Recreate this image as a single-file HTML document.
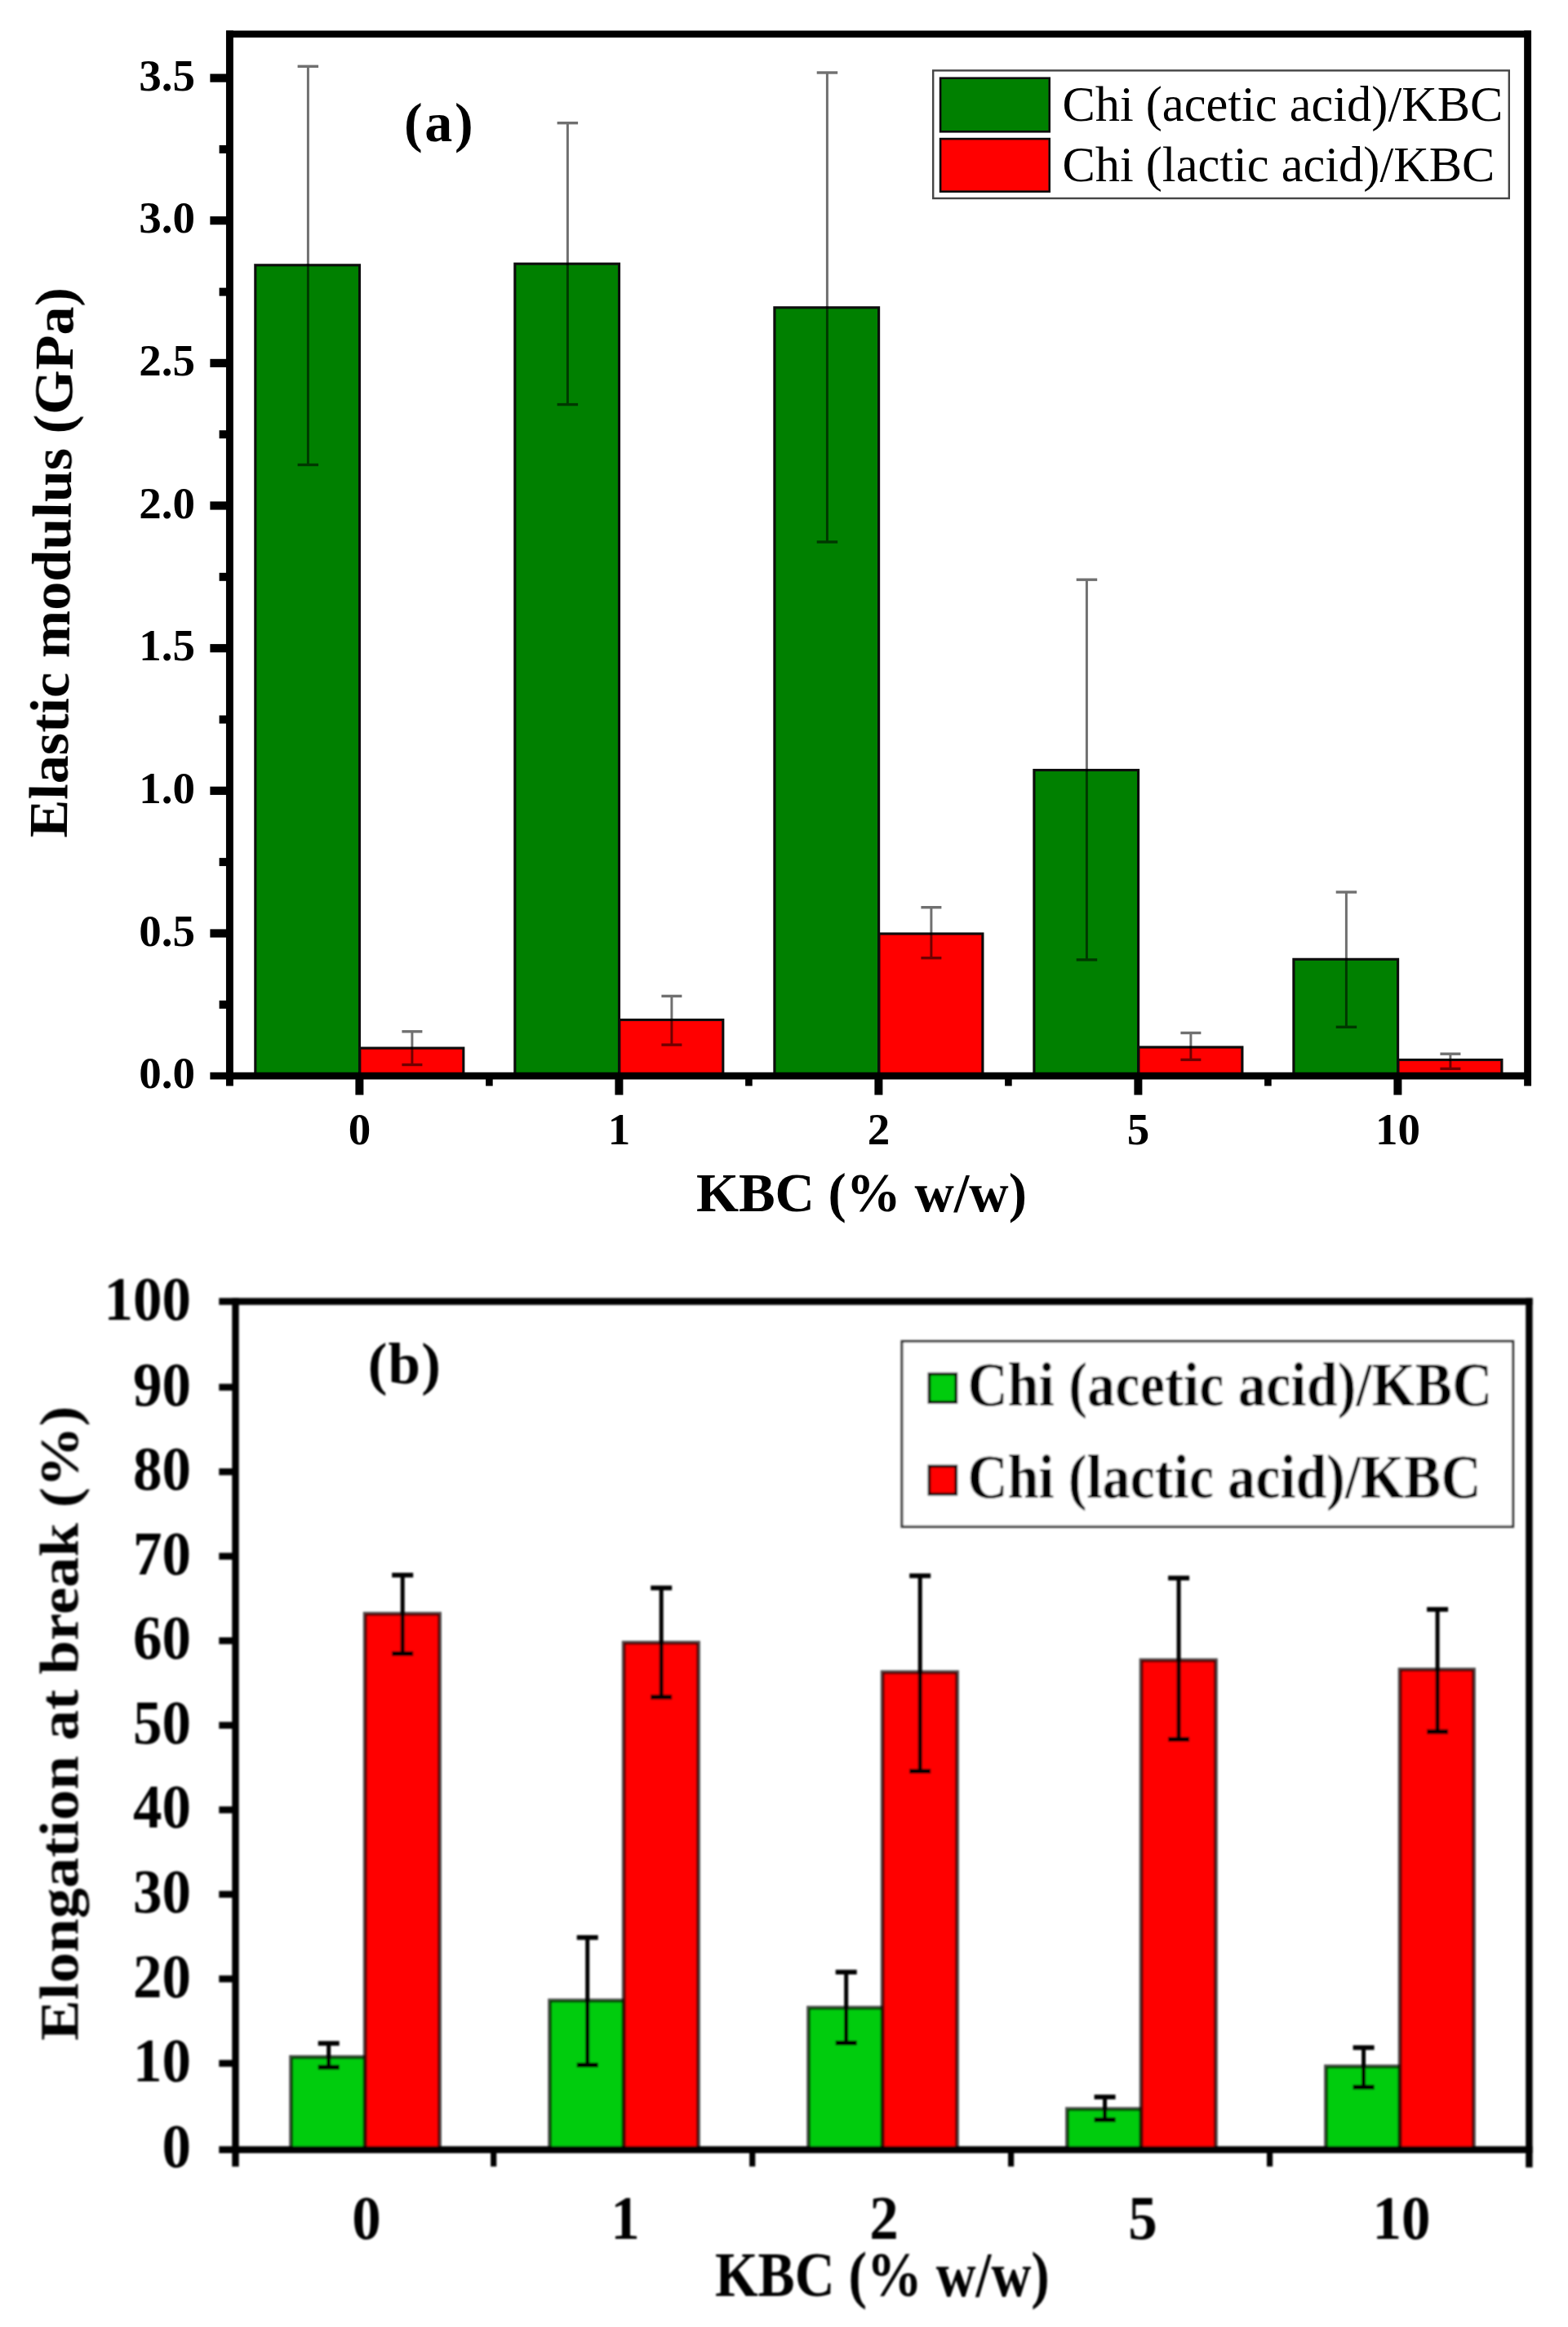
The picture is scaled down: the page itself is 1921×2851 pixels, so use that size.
<!DOCTYPE html>
<html lang="en"><head><meta charset="utf-8"><title>Figure</title>
<style>html,body{margin:0;padding:0;background:#fff}svg{display:block}</style></head>
<body>
<svg width="1921" height="2851" viewBox="0 0 1921 2851" font-family="'Liberation Serif', 'Times New Roman', serif" fill="#000">
<rect width="1921" height="2851" fill="#fff"/>
<defs><filter id="ba" filterUnits="userSpaceOnUse" x="0" y="0" width="1921" height="1540"><feGaussianBlur stdDeviation="0.55"/></filter><filter id="bb" filterUnits="userSpaceOnUse" x="0" y="1530" width="1921" height="1321"><feGaussianBlur stdDeviation="0.95"/></filter></defs>
<g filter="url(#ba)">
<rect x="312.8" y="324.8" width="127.7" height="991.8" fill="#008000" stroke="#0a0a0a" stroke-width="3.1"/>
<rect x="440.8" y="1284.1" width="127.0" height="32.4" fill="#ff0000" stroke="#0a0a0a" stroke-width="3.1"/>
<rect x="630.8" y="323.2" width="127.7" height="993.4" fill="#008000" stroke="#0a0a0a" stroke-width="3.1"/>
<rect x="758.8" y="1249.5" width="127.0" height="67.0" fill="#ff0000" stroke="#0a0a0a" stroke-width="3.1"/>
<rect x="948.9" y="376.8" width="127.7" height="939.8" fill="#008000" stroke="#0a0a0a" stroke-width="3.1"/>
<rect x="1076.9" y="1144.0" width="127.0" height="172.5" fill="#ff0000" stroke="#0a0a0a" stroke-width="3.1"/>
<rect x="1266.9" y="943.5" width="127.7" height="373.0" fill="#008000" stroke="#0a0a0a" stroke-width="3.1"/>
<rect x="1394.9" y="1283.0" width="127.0" height="33.6" fill="#ff0000" stroke="#0a0a0a" stroke-width="3.1"/>
<rect x="1584.9" y="1175.3" width="127.7" height="141.2" fill="#008000" stroke="#0a0a0a" stroke-width="3.1"/>
<rect x="1712.9" y="1298.5" width="127.0" height="18.0" fill="#ff0000" stroke="#0a0a0a" stroke-width="3.1"/>
<g stroke="#000" stroke-width="3.0" opacity="0.56"><line x1="377.4" y1="81.3" x2="377.4" y2="569.5"/><line x1="364.6" y1="81.3" x2="390.1" y2="81.3" stroke-width="3.4"/><line x1="364.6" y1="569.5" x2="390.1" y2="569.5" stroke-width="3.4"/></g>
<g stroke="#000" stroke-width="3.0" opacity="0.56"><line x1="695.4" y1="150.7" x2="695.4" y2="495.6"/><line x1="682.6" y1="150.7" x2="708.1" y2="150.7" stroke-width="3.4"/><line x1="682.6" y1="495.6" x2="708.1" y2="495.6" stroke-width="3.4"/></g>
<g stroke="#000" stroke-width="3.0" opacity="0.56"><line x1="1013.4" y1="89.0" x2="1013.4" y2="664.0"/><line x1="1000.7" y1="89.0" x2="1026.2" y2="89.0" stroke-width="3.4"/><line x1="1000.7" y1="664.0" x2="1026.2" y2="664.0" stroke-width="3.4"/></g>
<g stroke="#000" stroke-width="3.0" opacity="0.56"><line x1="1331.4" y1="710.2" x2="1331.4" y2="1175.9"/><line x1="1318.7" y1="710.2" x2="1344.2" y2="710.2" stroke-width="3.4"/><line x1="1318.7" y1="1175.9" x2="1344.2" y2="1175.9" stroke-width="3.4"/></g>
<g stroke="#000" stroke-width="3.0" opacity="0.56"><line x1="1649.4" y1="1093.0" x2="1649.4" y2="1258.3"/><line x1="1636.7" y1="1093.0" x2="1662.2" y2="1093.0" stroke-width="3.4"/><line x1="1636.7" y1="1258.3" x2="1662.2" y2="1258.3" stroke-width="3.4"/></g>
<g stroke="#000" stroke-width="3.0" opacity="0.56"><line x1="504.9" y1="1263.8" x2="504.9" y2="1304.5"/><line x1="492.4" y1="1263.8" x2="517.4" y2="1263.8" stroke-width="3.4"/><line x1="492.4" y1="1304.5" x2="517.4" y2="1304.5" stroke-width="3.4"/></g>
<g stroke="#000" stroke-width="3.0" opacity="0.56"><line x1="822.9" y1="1220.4" x2="822.9" y2="1280.1"/><line x1="810.4" y1="1220.4" x2="835.4" y2="1220.4" stroke-width="3.4"/><line x1="810.4" y1="1280.1" x2="835.4" y2="1280.1" stroke-width="3.4"/></g>
<g stroke="#000" stroke-width="3.0" opacity="0.56"><line x1="1140.9" y1="1111.7" x2="1140.9" y2="1173.7"/><line x1="1128.4" y1="1111.7" x2="1153.4" y2="1111.7" stroke-width="3.4"/><line x1="1128.4" y1="1173.7" x2="1153.4" y2="1173.7" stroke-width="3.4"/></g>
<g stroke="#000" stroke-width="3.0" opacity="0.56"><line x1="1458.9" y1="1265.5" x2="1458.9" y2="1298.4"/><line x1="1446.4" y1="1265.5" x2="1471.4" y2="1265.5" stroke-width="3.4"/><line x1="1446.4" y1="1298.4" x2="1471.4" y2="1298.4" stroke-width="3.4"/></g>
<g stroke="#000" stroke-width="3.0" opacity="0.56"><line x1="1776.9" y1="1291.2" x2="1776.9" y2="1309.4"/><line x1="1764.4" y1="1291.2" x2="1789.4" y2="1291.2" stroke-width="3.4"/><line x1="1764.4" y1="1309.4" x2="1789.4" y2="1309.4" stroke-width="3.4"/></g>
<line x1="281.4" y1="37.4" x2="281.4" y2="1330.5" stroke="#000" stroke-width="8.9"/>
<line x1="1871.6" y1="37.4" x2="1871.6" y2="1330.5" stroke="#000" stroke-width="8.9"/>
<line x1="277.1" y1="41.7" x2="1875.9" y2="41.7" stroke="#000" stroke-width="8.6"/>
<line x1="257.4" y1="1318.1" x2="1875.9" y2="1318.1" stroke="#000" stroke-width="8.7"/>
<line x1="257.4" y1="1143.5" x2="281.4" y2="1143.5" stroke="#000" stroke-width="10.2"/>
<line x1="257.4" y1="968.8" x2="281.4" y2="968.8" stroke="#000" stroke-width="10.2"/>
<line x1="257.4" y1="794.2" x2="281.4" y2="794.2" stroke="#000" stroke-width="10.2"/>
<line x1="257.4" y1="619.5" x2="281.4" y2="619.5" stroke="#000" stroke-width="10.2"/>
<line x1="257.4" y1="444.9" x2="281.4" y2="444.9" stroke="#000" stroke-width="10.2"/>
<line x1="257.4" y1="270.2" x2="281.4" y2="270.2" stroke="#000" stroke-width="10.2"/>
<line x1="257.4" y1="95.6" x2="281.4" y2="95.6" stroke="#000" stroke-width="10.2"/>
<line x1="268.6" y1="1230.8" x2="281.4" y2="1230.8" stroke="#000" stroke-width="10"/>
<line x1="268.6" y1="1056.1" x2="281.4" y2="1056.1" stroke="#000" stroke-width="10"/>
<line x1="268.6" y1="881.5" x2="281.4" y2="881.5" stroke="#000" stroke-width="10"/>
<line x1="268.6" y1="706.8" x2="281.4" y2="706.8" stroke="#000" stroke-width="10"/>
<line x1="268.6" y1="532.2" x2="281.4" y2="532.2" stroke="#000" stroke-width="10"/>
<line x1="268.6" y1="357.6" x2="281.4" y2="357.6" stroke="#000" stroke-width="10"/>
<line x1="268.6" y1="182.9" x2="281.4" y2="182.9" stroke="#000" stroke-width="10"/>
<line x1="440.4" y1="1318.1" x2="440.4" y2="1341.5" stroke="#000" stroke-width="10"/>
<line x1="758.4" y1="1318.1" x2="758.4" y2="1341.5" stroke="#000" stroke-width="10"/>
<line x1="1076.4" y1="1318.1" x2="1076.4" y2="1341.5" stroke="#000" stroke-width="10"/>
<line x1="1394.4" y1="1318.1" x2="1394.4" y2="1341.5" stroke="#000" stroke-width="10"/>
<line x1="1712.4" y1="1318.1" x2="1712.4" y2="1341.5" stroke="#000" stroke-width="10"/>
<line x1="599.4" y1="1318.1" x2="599.4" y2="1330.5" stroke="#000" stroke-width="8.6"/>
<line x1="917.4" y1="1318.1" x2="917.4" y2="1330.5" stroke="#000" stroke-width="8.6"/>
<line x1="1235.4" y1="1318.1" x2="1235.4" y2="1330.5" stroke="#000" stroke-width="8.6"/>
<line x1="1553.4" y1="1318.1" x2="1553.4" y2="1330.5" stroke="#000" stroke-width="8.6"/>
<text transform="translate(239.0,1333.3)" font-size="55" font-weight="bold" text-anchor="end">0.0</text>
<text transform="translate(239.0,1158.7)" font-size="55" font-weight="bold" text-anchor="end">0.5</text>
<text transform="translate(239.0,984.0)" font-size="55" font-weight="bold" text-anchor="end">1.0</text>
<text transform="translate(239.0,809.4)" font-size="55" font-weight="bold" text-anchor="end">1.5</text>
<text transform="translate(239.0,634.7)" font-size="55" font-weight="bold" text-anchor="end">2.0</text>
<text transform="translate(239.0,460.1)" font-size="55" font-weight="bold" text-anchor="end">2.5</text>
<text transform="translate(239.0,285.4)" font-size="55" font-weight="bold" text-anchor="end">3.0</text>
<text transform="translate(239.0,110.8)" font-size="55" font-weight="bold" text-anchor="end">3.5</text>
<text transform="translate(440.4,1402.0)" font-size="55" font-weight="bold" text-anchor="middle">0</text>
<text transform="translate(758.4,1402.0)" font-size="55" font-weight="bold" text-anchor="middle">1</text>
<text transform="translate(1076.4,1402.0)" font-size="55" font-weight="bold" text-anchor="middle">2</text>
<text transform="translate(1394.4,1402.0)" font-size="55" font-weight="bold" text-anchor="middle">5</text>
<text transform="translate(1712.4,1402.0)" font-size="55" font-weight="bold" text-anchor="middle">10</text>
<text transform="translate(1055.4,1484.2) scale(0.984,1)" font-size="68" font-weight="bold" text-anchor="middle">KBC (% w/w)</text>
<text transform="translate(85.9,689.5) rotate(-89.3) scale(1.023,1)" font-size="68.6" font-weight="bold" text-anchor="middle">Elastic modulus (GPa)</text>
<text transform="translate(538.6,172.7)" font-size="68" font-weight="bold" text-anchor="middle" letter-spacing="2.6">(a)</text>
<rect x="1143.2" y="86.4" width="705.6" height="156.6" fill="#fff" stroke="#444" stroke-width="2.4"/>
<rect x="1152.1" y="95.7" width="133.6" height="65.6" fill="#008000" stroke="#111" stroke-width="2.6"/>
<rect x="1152.1" y="170.1" width="133.6" height="64.6" fill="#ff0000" stroke="#111" stroke-width="2.6"/>
<text transform="translate(1301.4,147.8)" font-size="60.4" font-weight="normal" text-anchor="start">Chi (acetic acid)/KBC</text>
<text transform="translate(1301.4,221.8)" font-size="60.4" font-weight="normal" text-anchor="start">Chi (lactic acid)/KBC</text>
</g>
<g filter="url(#bb)">
<rect x="356.6" y="2520.3" width="90.6" height="113.4" fill="#00cc10" stroke="#000" stroke-opacity="0.7" stroke-width="4.8"/>
<rect x="447.2" y="1977.2" width="91.3" height="656.5" fill="#ff0000" stroke="#000" stroke-opacity="0.7" stroke-width="4.8"/>
<rect x="673.6" y="2451.0" width="90.6" height="182.7" fill="#00cc10" stroke="#000" stroke-opacity="0.7" stroke-width="4.8"/>
<rect x="764.2" y="2012.7" width="91.3" height="621.0" fill="#ff0000" stroke="#000" stroke-opacity="0.7" stroke-width="4.8"/>
<rect x="990.6" y="2459.9" width="90.6" height="173.8" fill="#00cc10" stroke="#000" stroke-opacity="0.7" stroke-width="4.8"/>
<rect x="1081.2" y="2048.8" width="91.3" height="584.9" fill="#ff0000" stroke="#000" stroke-opacity="0.7" stroke-width="4.8"/>
<rect x="1307.5" y="2583.9" width="90.6" height="49.8" fill="#00cc10" stroke="#000" stroke-opacity="0.7" stroke-width="4.8"/>
<rect x="1398.1" y="2034.1" width="91.3" height="599.6" fill="#ff0000" stroke="#000" stroke-opacity="0.7" stroke-width="4.8"/>
<rect x="1624.5" y="2531.8" width="90.6" height="101.9" fill="#00cc10" stroke="#000" stroke-opacity="0.7" stroke-width="4.8"/>
<rect x="1715.1" y="2045.6" width="90.4" height="588.1" fill="#ff0000" stroke="#000" stroke-opacity="0.7" stroke-width="4.8"/>
<g stroke="#000" stroke-width="5.0" opacity="1"><line x1="402.7" y1="2503.5" x2="402.7" y2="2532.7"/><line x1="389.7" y1="2503.5" x2="415.7" y2="2503.5" stroke-width="5.8"/><line x1="389.7" y1="2532.7" x2="415.7" y2="2532.7" stroke-width="5.8"/></g>
<g stroke="#000" stroke-width="5.0" opacity="1"><line x1="719.7" y1="2373.8" x2="719.7" y2="2530.1"/><line x1="706.7" y1="2373.8" x2="732.7" y2="2373.8" stroke-width="5.8"/><line x1="706.7" y1="2530.1" x2="732.7" y2="2530.1" stroke-width="5.8"/></g>
<g stroke="#000" stroke-width="5.0" opacity="1"><line x1="1036.7" y1="2416.2" x2="1036.7" y2="2502.9"/><line x1="1023.7" y1="2416.2" x2="1049.7" y2="2416.2" stroke-width="5.8"/><line x1="1023.7" y1="2502.9" x2="1049.7" y2="2502.9" stroke-width="5.8"/></g>
<g stroke="#000" stroke-width="5.0" opacity="1"><line x1="1353.6" y1="2569.2" x2="1353.6" y2="2597.2"/><line x1="1340.6" y1="2569.2" x2="1366.6" y2="2569.2" stroke-width="5.8"/><line x1="1340.6" y1="2597.2" x2="1366.6" y2="2597.2" stroke-width="5.8"/></g>
<g stroke="#000" stroke-width="5.0" opacity="1"><line x1="1670.6" y1="2508.7" x2="1670.6" y2="2557.2"/><line x1="1657.6" y1="2508.7" x2="1683.6" y2="2508.7" stroke-width="5.8"/><line x1="1657.6" y1="2557.2" x2="1683.6" y2="2557.2" stroke-width="5.8"/></g>
<g stroke="#000" stroke-width="5.0" opacity="1"><line x1="493.2" y1="1929.8" x2="493.2" y2="2026.0"/><line x1="480.2" y1="1929.8" x2="506.2" y2="1929.8" stroke-width="5.8"/><line x1="480.2" y1="2026.0" x2="506.2" y2="2026.0" stroke-width="5.8"/></g>
<g stroke="#000" stroke-width="5.0" opacity="1"><line x1="810.2" y1="1945.5" x2="810.2" y2="2079.3"/><line x1="797.2" y1="1945.5" x2="823.2" y2="1945.5" stroke-width="5.8"/><line x1="797.2" y1="2079.3" x2="823.2" y2="2079.3" stroke-width="5.8"/></g>
<g stroke="#000" stroke-width="5.0" opacity="1"><line x1="1127.2" y1="1930.6" x2="1127.2" y2="2170.0"/><line x1="1114.2" y1="1930.6" x2="1140.2" y2="1930.6" stroke-width="5.8"/><line x1="1114.2" y1="2170.0" x2="1140.2" y2="2170.0" stroke-width="5.8"/></g>
<g stroke="#000" stroke-width="5.0" opacity="1"><line x1="1444.1" y1="1933.4" x2="1444.1" y2="2131.0"/><line x1="1431.1" y1="1933.4" x2="1457.1" y2="1933.4" stroke-width="5.8"/><line x1="1431.1" y1="2131.0" x2="1457.1" y2="2131.0" stroke-width="5.8"/></g>
<g stroke="#000" stroke-width="5.0" opacity="1"><line x1="1761.1" y1="1971.8" x2="1761.1" y2="2121.6"/><line x1="1748.1" y1="1971.8" x2="1774.1" y2="1971.8" stroke-width="5.8"/><line x1="1748.1" y1="2121.6" x2="1774.1" y2="2121.6" stroke-width="5.8"/></g>
<line x1="288.5" y1="1590.3" x2="288.5" y2="2654.5" stroke="#000" stroke-width="8.4"/>
<line x1="1873.4" y1="1590.3" x2="1873.4" y2="2655.5" stroke="#000" stroke-width="8.4"/>
<line x1="268.3" y1="1594.5" x2="1877.6" y2="1594.5" stroke="#000" stroke-width="8.4"/>
<line x1="268.3" y1="2633.7" x2="1877.6" y2="2633.7" stroke="#000" stroke-width="8.6"/>
<line x1="268.3" y1="2528.0" x2="288.5" y2="2528.0" stroke="#000" stroke-width="8.4"/>
<line x1="268.3" y1="2424.5" x2="288.5" y2="2424.5" stroke="#000" stroke-width="8.4"/>
<line x1="268.3" y1="2320.9" x2="288.5" y2="2320.9" stroke="#000" stroke-width="8.4"/>
<line x1="268.3" y1="2217.4" x2="288.5" y2="2217.4" stroke="#000" stroke-width="8.4"/>
<line x1="268.3" y1="2113.8" x2="288.5" y2="2113.8" stroke="#000" stroke-width="8.4"/>
<line x1="268.3" y1="2010.2" x2="288.5" y2="2010.2" stroke="#000" stroke-width="8.4"/>
<line x1="268.3" y1="1906.7" x2="288.5" y2="1906.7" stroke="#000" stroke-width="8.4"/>
<line x1="268.3" y1="1803.2" x2="288.5" y2="1803.2" stroke="#000" stroke-width="8.4"/>
<line x1="268.3" y1="1699.6" x2="288.5" y2="1699.6" stroke="#000" stroke-width="8.4"/>
<line x1="604.7" y1="2633.7" x2="604.7" y2="2654.4" stroke="#000" stroke-width="7.2"/>
<line x1="921.7" y1="2633.7" x2="921.7" y2="2654.4" stroke="#000" stroke-width="7.2"/>
<line x1="1238.6" y1="2633.7" x2="1238.6" y2="2654.4" stroke="#000" stroke-width="7.2"/>
<line x1="1555.6" y1="2633.7" x2="1555.6" y2="2654.4" stroke="#000" stroke-width="7.2"/>
<text transform="translate(234.0,2655.0) scale(1,1.072)" font-size="71" font-weight="bold" text-anchor="end">0</text>
<text transform="translate(234.0,2550.0) scale(1,1.072)" font-size="71" font-weight="bold" text-anchor="end">10</text>
<text transform="translate(234.0,2446.5) scale(1,1.072)" font-size="71" font-weight="bold" text-anchor="end">20</text>
<text transform="translate(234.0,2342.9) scale(1,1.072)" font-size="71" font-weight="bold" text-anchor="end">30</text>
<text transform="translate(234.0,2239.4) scale(1,1.072)" font-size="71" font-weight="bold" text-anchor="end">40</text>
<text transform="translate(234.0,2135.8) scale(1,1.072)" font-size="71" font-weight="bold" text-anchor="end">50</text>
<text transform="translate(234.0,2032.2) scale(1,1.072)" font-size="71" font-weight="bold" text-anchor="end">60</text>
<text transform="translate(234.0,1928.7) scale(1,1.072)" font-size="71" font-weight="bold" text-anchor="end">70</text>
<text transform="translate(234.0,1825.2) scale(1,1.072)" font-size="71" font-weight="bold" text-anchor="end">80</text>
<text transform="translate(234.0,1721.6) scale(1,1.072)" font-size="71" font-weight="bold" text-anchor="end">90</text>
<text transform="translate(234.0,1616.5) scale(1,1.072)" font-size="71" font-weight="bold" text-anchor="end">100</text>
<text transform="translate(449.0,2743.0) scale(1,1.072)" font-size="71" font-weight="bold" text-anchor="middle">0</text>
<text transform="translate(766.0,2743.0) scale(1,1.072)" font-size="71" font-weight="bold" text-anchor="middle">1</text>
<text transform="translate(1083.0,2743.0) scale(1,1.072)" font-size="71" font-weight="bold" text-anchor="middle">2</text>
<text transform="translate(1399.9,2743.0) scale(1,1.072)" font-size="71" font-weight="bold" text-anchor="middle">5</text>
<text transform="translate(1716.9,2743.0) scale(1,1.072)" font-size="71" font-weight="bold" text-anchor="middle">10</text>
<text transform="translate(1080.9,2812.6) scale(1,1.15)" font-size="67.7" font-weight="bold" text-anchor="middle">KBC (% w/w)</text>
<text transform="translate(95.4,2111.4) rotate(-90) scale(1.09,1)" font-size="68.6" font-weight="bold" text-anchor="middle">Elongation at break (%)</text>
<text transform="translate(495.9,1695.0)" font-size="71" font-weight="bold" text-anchor="middle" letter-spacing="1.2">(b)</text>
<rect x="1105" y="1643.4" width="748.6" height="227" fill="#fff" stroke="#303030" stroke-width="3.0"/>
<rect x="1138.4" y="1683.4" width="33.0" height="34.6" fill="#00cc10" stroke="#000" stroke-width="3.6"/>
<rect x="1138.4" y="1796.4" width="33.0" height="34.2" fill="#ff0000" stroke="#000" stroke-width="3.6"/>
<text transform="translate(1185.5,1722.0) scale(1,1.11)" font-size="67.9" font-weight="bold" text-anchor="start" letter-spacing="0.28">Chi (acetic acid)/KBC</text>
<text transform="translate(1185.5,1834.6) scale(1,1.11)" font-size="67.9" font-weight="bold" text-anchor="start" letter-spacing="0.15">Chi (lactic acid)/KBC</text>
</g>
</svg>
</body></html>
